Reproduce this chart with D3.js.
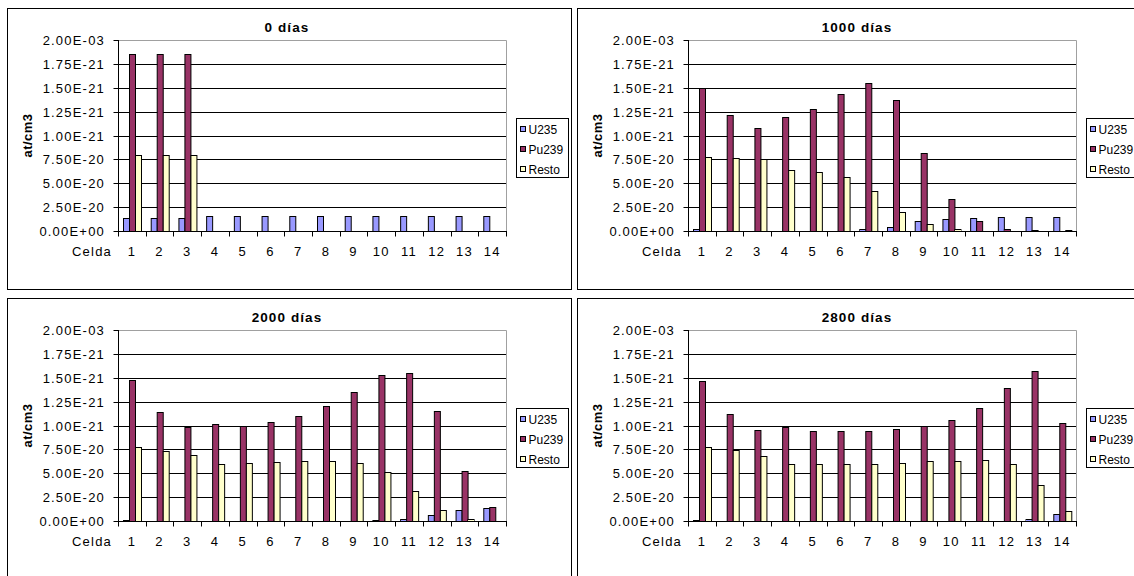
<!DOCTYPE html>
<html>
<head>
<meta charset="utf-8">
<script src="https://cdn.jsdelivr.net/npm/d3@7"></script>
<style>
  html, body { margin: 0; padding: 0; background: #fff; }
  svg { display: block; font-family: "Liberation Sans", Arial, sans-serif; }
</style>
</head>
<body>
<svg id="chart" width="1134" height="576"></svg>
<script>
// Cells along the fuel element
const categories = ["1","2","3","4","5","6","7","8","9","10","11","12","13","14"];
const seriesNames = ["U235", "Pu239", "Resto"];
const seriesColors = ["#9999FF", "#993366", "#FFFFCC"];

// Y axis tick values and their printed labels
const yTickValues = [0, 0.25, 0.5, 0.75, 1.0, 1.25, 1.5, 1.75, 2.0];
const yTickLabels = ["0.00E+00","2.50E-20","5.00E-20","7.50E-20","1.00E-21","1.25E-21","1.50E-21","1.75E-21","2.00E-03"];

const titles = ["0 días", "1000 días", "2000 días", "2800 días"];

// 0 días
const u235_0   = [0.14,0.14,0.14,0.16,0.16,0.16,0.16,0.16,0.16,0.16,0.16,0.16,0.16,0.16];
const pu239_0  = [1.85,1.85,1.85,0,0,0,0,0,0,0,0,0,0,0];
const resto_0  = [0.80,0.80,0.80,0,0,0,0,0,0,0,0,0,0,0];

// 1000 días
const u235_1000  = [0.02,0,0,0,0,0,0.02,0.04,0.10,0.13,0.14,0.15,0.15,0.15];
const pu239_1000 = [1.50,1.21,1.08,1.19,1.28,1.43,1.55,1.37,0.82,0.34,0.10,0.02,0.01,0];
const resto_1000 = [0.78,0.76,0.75,0.64,0.62,0.57,0.42,0.20,0.07,0.02,0,0,0,0.01];

// 2000 días
const u235_2000  = [0.01,0,0,0,0,0,0,0,0,0.01,0.02,0.06,0.11,0.14];
const pu239_2000 = [1.48,1.14,0.98,1.02,1.00,1.04,1.10,1.20,1.35,1.53,1.55,1.15,0.52,0.15];
const resto_2000 = [0.78,0.73,0.69,0.60,0.61,0.62,0.63,0.63,0.61,0.51,0.31,0.11,0.02,0];

// 2800 días
const u235_2800  = [0.01,0,0,0,0,0,0,0,0,0,0,0,0.02,0.07];
const pu239_2800 = [1.47,1.12,0.95,0.98,0.94,0.94,0.94,0.96,1.00,1.06,1.18,1.39,1.57,1.03];
const resto_2800 = [0.78,0.74,0.68,0.60,0.60,0.60,0.60,0.61,0.63,0.63,0.64,0.60,0.38,0.10];

const panels = [
  { title: titles[0], series: [u235_0, pu239_0, resto_0] },
  { title: titles[1], series: [u235_1000, pu239_1000, resto_1000] },
  { title: titles[2], series: [u235_2000, pu239_2000, resto_2000] },
  { title: titles[3], series: [u235_2800, pu239_2800, resto_2800] }
];

// Layout of one chart box (page coordinates of the first box)
const box = { x: 7.5, y: 8.5, w: 564, h: 281 };
const offsets = [[0, 0], [570, 0], [0, 290], [570, 290]];
const plot = { left: 118, right: 506, top: 40, bottom: 231 };
const legendBox = { x: 516.5, y: 118.5, w: 52, h: 59 };
const font = "'Liberation Sans', Arial, sans-serif";

const svg = d3.select("#chart");

const x = d3.scaleBand().domain(categories).range([plot.left, plot.right]).padding(0);
const step = x.step();
const barW = step / 4.5;                       // gap width 150%
const inner = d3.scaleBand().domain(seriesNames)
  .range([(step - 3 * barW) / 2, (step + 3 * barW) / 2]).padding(0);
const y = d3.scaleLinear().domain([0, 2]).range([plot.bottom, plot.top]);
const crisp = v => Math.round(v) + 0.5;

panels.forEach((p, i) => {
  const g = svg.append("g").attr("transform", `translate(${offsets[i][0]},${offsets[i][1]})`);

  // outer frame
  g.append("rect")
    .attr("x", box.x).attr("y", box.y).attr("width", box.w).attr("height", box.h)
    .attr("fill", "#fff").attr("stroke", "#000").attr("stroke-width", 1);

  // plot area frame (top and right edges)
  g.append("path")
    .attr("d", `M${plot.left},${crisp(y(2))}H${crisp(plot.right)}V${plot.bottom}`)
    .attr("fill", "none").attr("stroke", "#a0a0a0").attr("stroke-width", 1);

  // horizontal gridlines
  g.append("g").selectAll("line")
    .data(yTickValues.filter(v => v > 0 && v < 2))
    .join("line")
    .attr("x1", plot.left).attr("x2", plot.right)
    .attr("y1", d => crisp(y(d))).attr("y2", d => crisp(y(d)))
    .attr("stroke", "#000").attr("stroke-width", 1);

  // bars, three per cell
  const groups = g.append("g").selectAll("g")
    .data(categories)
    .join("g")
    .attr("transform", c => `translate(${x(c)},0)`);
  groups.selectAll("rect")
    .data((c, ci) => seriesNames.map((s, si) => ({ s, si, v: p.series[si][ci] })))
    .join("rect")
    .filter(d => d.v > 0)
    .attr("x", d => Math.round(inner(d.s)) + 0.5)
    .attr("width", Math.round(barW))
    .attr("y", d => Math.round(y(d.v)) + 0.5)
    .attr("height", d => Math.max(0, Math.round(y(0)) - Math.round(y(d.v))))
    .attr("fill", d => seriesColors[d.si])
    .attr("stroke", "#000").attr("stroke-width", 1);

  // Y axis
  const yAxis = d3.axisLeft(y)
    .tickValues(yTickValues)
    .tickFormat((d, k) => yTickLabels[k])
    .tickSize(5).tickPadding(8);
  const ya = g.append("g").attr("transform", `translate(${plot.left},0)`).call(yAxis);
  ya.select(".domain").attr("stroke", "#000").attr("d", `M0.5,${plot.top}V${crisp(plot.bottom)}`);
  ya.selectAll(".tick").attr("transform", d => `translate(0,${crisp(y(d))})`);
  ya.selectAll(".tick line").attr("stroke", "#000").attr("x1", 0.5).attr("x2", -4.5);
  ya.selectAll(".tick text")
    .attr("fill", "#000").attr("font-size", 13).attr("letter-spacing", 1.2)
    .attr("font-family", font);

  // X axis baseline and ticks on the cell boundaries
  g.append("line")
    .attr("x1", plot.left).attr("x2", plot.right + 1)
    .attr("y1", crisp(plot.bottom)).attr("y2", crisp(plot.bottom))
    .attr("stroke", "#000");
  g.append("g").selectAll("line")
    .data(categories.concat(["end"]))
    .join("line")
    .attr("x1", (c, k) => crisp(plot.left + k * step))
    .attr("x2", (c, k) => crisp(plot.left + k * step))
    .attr("y1", crisp(plot.bottom)).attr("y2", crisp(plot.bottom) + 5)
    .attr("stroke", "#000");

  // cell labels
  const xAxis = d3.axisBottom(x).tickSize(0).tickPadding(16);
  const xa = g.append("g").attr("transform", `translate(0,${plot.bottom})`).call(xAxis);
  xa.select(".domain").remove();
  xa.selectAll(".tick text")
    .attr("fill", "#000").attr("font-size", 13).attr("letter-spacing", 1.2)
    .attr("font-family", font);

  g.append("text")
    .attr("x", 112).attr("y", 251.7).attr("dy", "0.35em")
    .attr("text-anchor", "end").attr("font-size", 13).attr("letter-spacing", 1.2)
    .text("Celda");

  // title
  g.append("text")
    .attr("x", 287).attr("y", 27.3).attr("dy", "0.35em")
    .attr("text-anchor", "middle").attr("font-size", 13.5).attr("font-weight", "bold")
    .attr("letter-spacing", 1.1)
    .text(p.title);

  // y axis title
  g.append("text")
    .attr("transform", `translate(27,${(plot.top + plot.bottom) / 2}) rotate(-90)`)
    .attr("dy", "0.35em").attr("text-anchor", "middle")
    .attr("font-size", 13).attr("font-weight", "bold").attr("letter-spacing", 0.5)
    .text("at/cm3");

  // legend
  const lg = g.append("g");
  lg.append("rect")
    .attr("x", legendBox.x).attr("y", legendBox.y).attr("width", legendBox.w).attr("height", legendBox.h)
    .attr("fill", "#fff").attr("stroke", "#000");
  const items = lg.selectAll("g.item").data(seriesNames).join("g")
    .attr("class", "item")
    .attr("transform", (d, k) => `translate(${legendBox.x},${legendBox.y + 11 + k * 20})`);
  items.append("rect")
    .attr("x", 4).attr("y", -3).attr("width", 5).attr("height", 5)
    .attr("fill", (d, k) => seriesColors[k]).attr("stroke", "#000");
  items.append("text")
    .attr("x", 12).attr("y", 0).attr("dy", "0.35em")
    .attr("font-size", 12)
    .text(d => d);
});
</script>
</body>
</html>
